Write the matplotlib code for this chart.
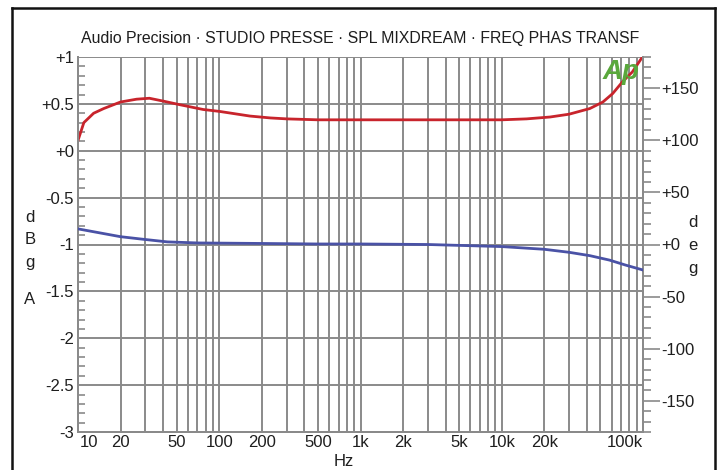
import matplotlib
matplotlib.use('Agg')
import matplotlib.pyplot as plt
import matplotlib.ticker as ticker
from matplotlib.lines import Line2D

plt.rcParams['font.family'] = ['Liberation Sans', 'DejaVu Sans']

# ----------------------------------------------------------------------
# Data
# ----------------------------------------------------------------------
freq_amp = [10, 11, 12.9, 15.2, 20, 26, 32, 40, 53, 77, 100, 165, 230, 300,
            500, 1000, 3000, 10000, 15000, 22000, 30000, 42000, 52000,
            61000, 72000, 84000, 98000, 100000]
gain_db = [0.11, 0.30, 0.40, 0.45, 0.52, 0.55, 0.56, 0.53, 0.49, 0.44, 0.42,
           0.37, 0.35, 0.34, 0.33, 0.33, 0.33, 0.33, 0.34, 0.36, 0.39, 0.45,
           0.52, 0.61, 0.74, 0.84, 0.99, 1.0]

freq_ph = [10, 20, 29, 43, 70, 200, 500, 1000, 3000, 10000, 20000, 30000,
           42000, 58000, 75000, 100000]
phase_deg = [15, 7.5, 5.0, 2.5, 1.5, 1.0, 0.5, 0.5, 0.0, -2.0, -4.6, -7.5,
             -10.7, -15.0, -19.7, -24.5]

x_ticks = [10, 20, 50, 100, 200, 500, 1000, 2000, 5000, 10000, 20000, 100000]
x_labels = ['10', '20', '50', '100', '200', '500', '1k', '2k', '5k', '10k',
            '20k', '100k']
db_ticks = [1, 0.5, 0, -0.5, -1, -1.5, -2, -2.5, -3]
db_labels = ['+1', '+0.5', '+0', '-0.5', '-1', '-1.5', '-2', '-2.5', '-3']
deg_ticks = [150, 100, 50, 0, -50, -100, -150]
deg_labels = ['+150', '+100', '+50', '+0', '-50', '-100', '-150']

title = 'Audio Precision · STUDIO PRESSE · SPL MIXDREAM · FREQ PHAS TRANSF'

# ----------------------------------------------------------------------
# Figure
# ----------------------------------------------------------------------
W, H = 722, 470
fig = plt.figure(figsize=(W / 100, H / 100), dpi=100)
ax = fig.add_axes([78 / W, 1 - 432 / H, (643 - 78) / W, (432 - 57) / H])
ax2 = ax.twinx()

grid_c = '#8a8a8a'
txt_c = '#1e1e1e'

ax.set_xscale('log')
ax.set_xlim(10, 100000)
ax.set_ylim(-3, 1)
ax2.set_ylim(-180, 180)

ax.plot(freq_amp, gain_db, color='#c8242c', linewidth=2.0, zorder=5)
ax2.plot(freq_ph, phase_deg, color='#4a52a6', linewidth=2.0, zorder=5)

# grid: every 1..9 line per decade, same weight
ax.xaxis.set_major_locator(ticker.FixedLocator(x_ticks))
ax.xaxis.set_minor_locator(ticker.LogLocator(base=10, subs=range(1, 10), numticks=20))
ax.xaxis.set_minor_formatter(ticker.NullFormatter())
ax.set_xticklabels([])
ax.grid(True, which='both', axis='x', color=grid_c, linewidth=1.4)
ax.set_yticks(db_ticks)
ax.set_yticklabels(db_labels)
ax.yaxis.set_minor_locator(ticker.MultipleLocator(0.1))
ax.grid(True, which='major', axis='y', color=grid_c, linewidth=1.4)

for s in ['left', 'bottom', 'right']:
    ax.spines[s].set_color(grid_c)
    ax.spines[s].set_linewidth(1.4)
    ax2.spines[s].set_color(grid_c)
    ax2.spines[s].set_linewidth(1.4)
ax.spines['top'].set_visible(False)
ax2.spines['top'].set_visible(False)

ax.tick_params(axis='x', which='both', length=0)
ax.tick_params(axis='y', which='major', length=0, labelsize=12,
               labelcolor=txt_c, pad=3)
ax.tick_params(axis='y', which='minor', direction='in', length=5,
               color=grid_c, width=1.2)

ax2.set_yticks(deg_ticks)
ax2.set_yticklabels(deg_labels)
ax2.yaxis.set_minor_locator(ticker.MultipleLocator(10))
ax2.tick_params(axis='y', which='major', direction='out', length=12,
                color=grid_c, width=1.2, labelsize=12, labelcolor=txt_c, pad=1)
ax2.tick_params(axis='y', which='minor', direction='out', length=6,
                color=grid_c, width=1.2)

# x tick labels, edge ones pulled inward
trans = ax.get_xaxis_transform()
for i, (xv, lab) in enumerate(zip(x_ticks, x_labels)):
    ha = 'left' if i == 0 else ('right' if i == len(x_ticks) - 1 else 'center')
    ax.text(xv * (1.03 if i == 0 else 1.0), -0.028, lab, transform=trans,
            ha=ha, va='center', fontsize=12, color=txt_c)

# axis captions
fig.text(344 / W, 1 - 461 / H, 'Hz', ha='center', va='center', fontsize=12, color=txt_c)
for ch, yy in zip('dBgA', [218, 240, 262, 300]):
    fig.text(30 / W, 1 - yy / H, ch, ha='center', va='center', fontsize=12, color=txt_c)
for ch, yy in zip('deg', [223, 246, 268]):
    fig.text(693 / W, 1 - yy / H, ch, ha='center', va='center', fontsize=12, color=txt_c)

fig.text(360 / W, 1 - 38 / H, title, ha='center', va='center', fontsize=11.4, color=txt_c)

# Ap logo
fig.text(621 / W, 1 - 72 / H, 'Ap', ha='center', va='center', fontsize=20,
         fontweight='heavy', fontstyle='italic', color='#5aa83c')

# outer frame (open at the bottom)
fc = '#111111'
fig.add_artist(Line2D([12 / W, 12 / W], [0, 1 - 8 / H], color=fc, linewidth=1.8))
fig.add_artist(Line2D([12 / W, 715 / W], [1 - 8 / H, 1 - 8 / H], color=fc, linewidth=1.8))
fig.add_artist(Line2D([715 / W, 715 / W], [0, 1 - 8 / H], color=fc, linewidth=1.8))

fig.savefig('out.png', dpi=100)
